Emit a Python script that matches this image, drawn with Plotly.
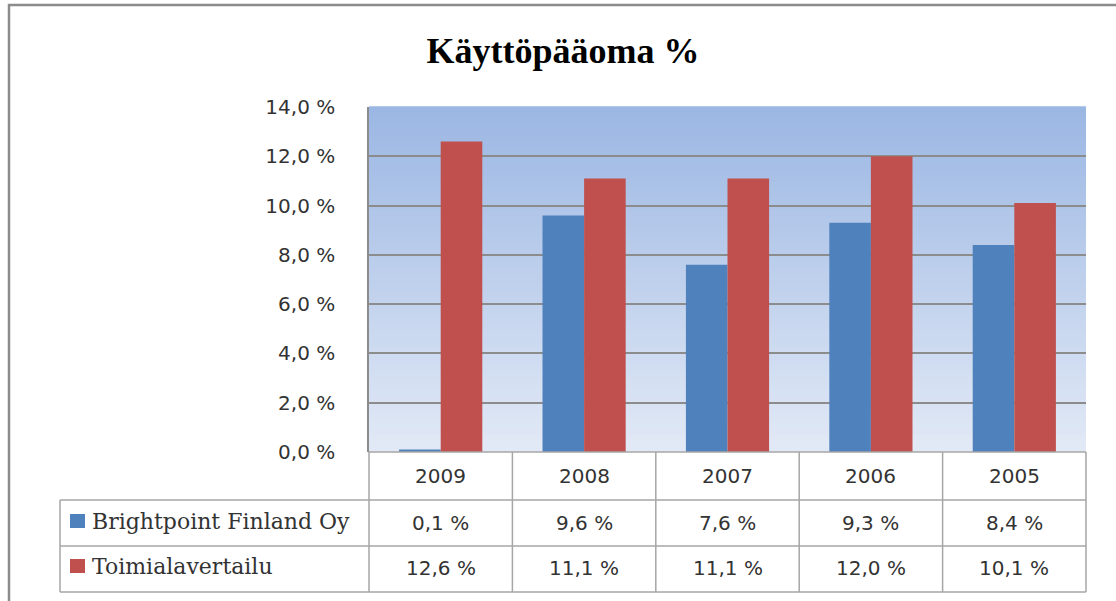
import plotly.graph_objects as go

years = ["2009", "2008", "2007", "2006", "2005"]
series_names = ["Brightpoint Finland Oy", "Toimialavertailu"]
brightpoint = [0.1, 9.6, 7.6, 9.3, 8.4]
toimiala = [12.6, 11.1, 11.1, 12.0, 10.1]
colors = ["#4F81BD", "#C0504D"]
title_text = "Käyttöpääoma %"

W, H = 1116, 601
L, R, T, B = 369, 1086, 107, 452  # plot area in pixels


def px(x):
    return (x - L) / (R - L)


def py(y):
    return (B - y) / (B - T)


fig = go.Figure()
for name, vals, col in zip(series_names, [brightpoint, toimiala], colors):
    fig.add_trace(go.Bar(x=years, y=vals, name=name, marker=dict(color=col, line=dict(width=0)),
                         showlegend=False))

shapes = []
# gradient background
n = 60
top = (155, 183, 227)
bot = (226, 233, 246)
for i in range(n):
    f = i / (n - 1)
    c = tuple(round(bot[k] + (top[k] - bot[k]) * f) for k in range(3))
    shapes.append(dict(type="rect", xref="x domain", yref="y domain", x0=0, x1=1,
                       y0=i / n, y1=(i + 1) / n + 0.002, line=dict(width=0),
                       fillcolor="rgb(%d,%d,%d)" % c, layer="below"))

grid = "#A6A6A6"
lw = 1.5
# outer frame
shapes.append(dict(type="rect", xref="paper", yref="paper", x0=px(9), x1=px(1125), y0=py(5), y1=py(610),
                   line=dict(color="#8C8C8C", width=2.5), fillcolor="rgba(0,0,0,0)"))

# table rows
row_y = [452, 500, 546, 592]
col_x = [L + (R - L) * i / 5 for i in range(6)]
left_x = 60
shapes.append(dict(type="line", xref="paper", yref="paper", x0=px(L), x1=px(R), y0=py(452), y1=py(452),
                   line=dict(color=grid, width=lw)))
for y in row_y[1:]:
    shapes.append(dict(type="line", xref="paper", yref="paper", x0=px(left_x), x1=px(R), y0=py(y), y1=py(y),
                       line=dict(color=grid, width=lw)))
for x in col_x:
    shapes.append(dict(type="line", xref="paper", yref="paper", x0=px(x), x1=px(x), y0=py(452), y1=py(592),
                       line=dict(color=grid, width=lw)))
shapes.append(dict(type="line", xref="paper", yref="paper", x0=px(left_x), x1=px(left_x), y0=py(500), y1=py(592),
                   line=dict(color=grid, width=lw)))

annotations = []
num_font = dict(family="DejaVu Sans", size=20, color="#333333")
for i, yr in enumerate(years):
    cx = (col_x[i] + col_x[i + 1]) / 2
    annotations.append(dict(x=px(cx), y=py(476), xref="paper", yref="paper", text=yr, showarrow=False,
                            font=num_font, xanchor="center", yanchor="middle"))
    for vals, yc in [(brightpoint, 523), (toimiala, 568)]:
        annotations.append(dict(x=px(cx), y=py(yc), xref="paper", yref="paper",
                                text=("%.1f %%" % vals[i]).replace(".", ","), showarrow=False,
                                font=num_font, xanchor="center", yanchor="middle"))

for name, col, yc in zip(series_names, colors, [521, 566]):
    shapes.append(dict(type="rect", xref="paper", yref="paper", x0=px(70), x1=px(85), y0=py(yc - 7), y1=py(yc + 7),
                       line=dict(width=0), fillcolor=col))
    annotations.append(dict(x=px(90), y=py(yc), xref="paper", yref="paper", text=name, showarrow=False,
                            font=dict(family="DejaVu Serif", size=22, color="#333333"),
                            xanchor="left", yanchor="middle"))

fig.update_layout(
    width=W, height=H,
    margin=dict(l=L, r=W - R, t=T, b=H - B),
    paper_bgcolor="white",
    plot_bgcolor="rgba(0,0,0,0)",
    separators=", ",
    barmode="group",
    bargap=0.42,
    bargroupgap=0,
    title=dict(text="<b>" + title_text + "</b>", x=563 / W, xref="container", y=1 - 50 / H, yref="container",
               xanchor="center", yanchor="middle",
               font=dict(family="Liberation Serif", size=36, color="black")),
    xaxis=dict(showticklabels=False, showgrid=False, showline=False, ticks="", fixedrange=True),
    yaxis=dict(range=[0, 14], dtick=2, tickformat=".1f", ticksuffix=" %", showgrid=True, gridcolor="#8C8C8C",
               gridwidth=lw, showline=True, linecolor="#8C8C8C", linewidth=lw, ticks="", ticklabelstandoff=28,
               tickfont=dict(family="DejaVu Sans", size=20, color="#333333"), zeroline=False),
    shapes=shapes,
    annotations=annotations,
)

fig.write_html("out.html", config={"displayModeBar": False},
               post_script="document.body.style.margin='0';")
